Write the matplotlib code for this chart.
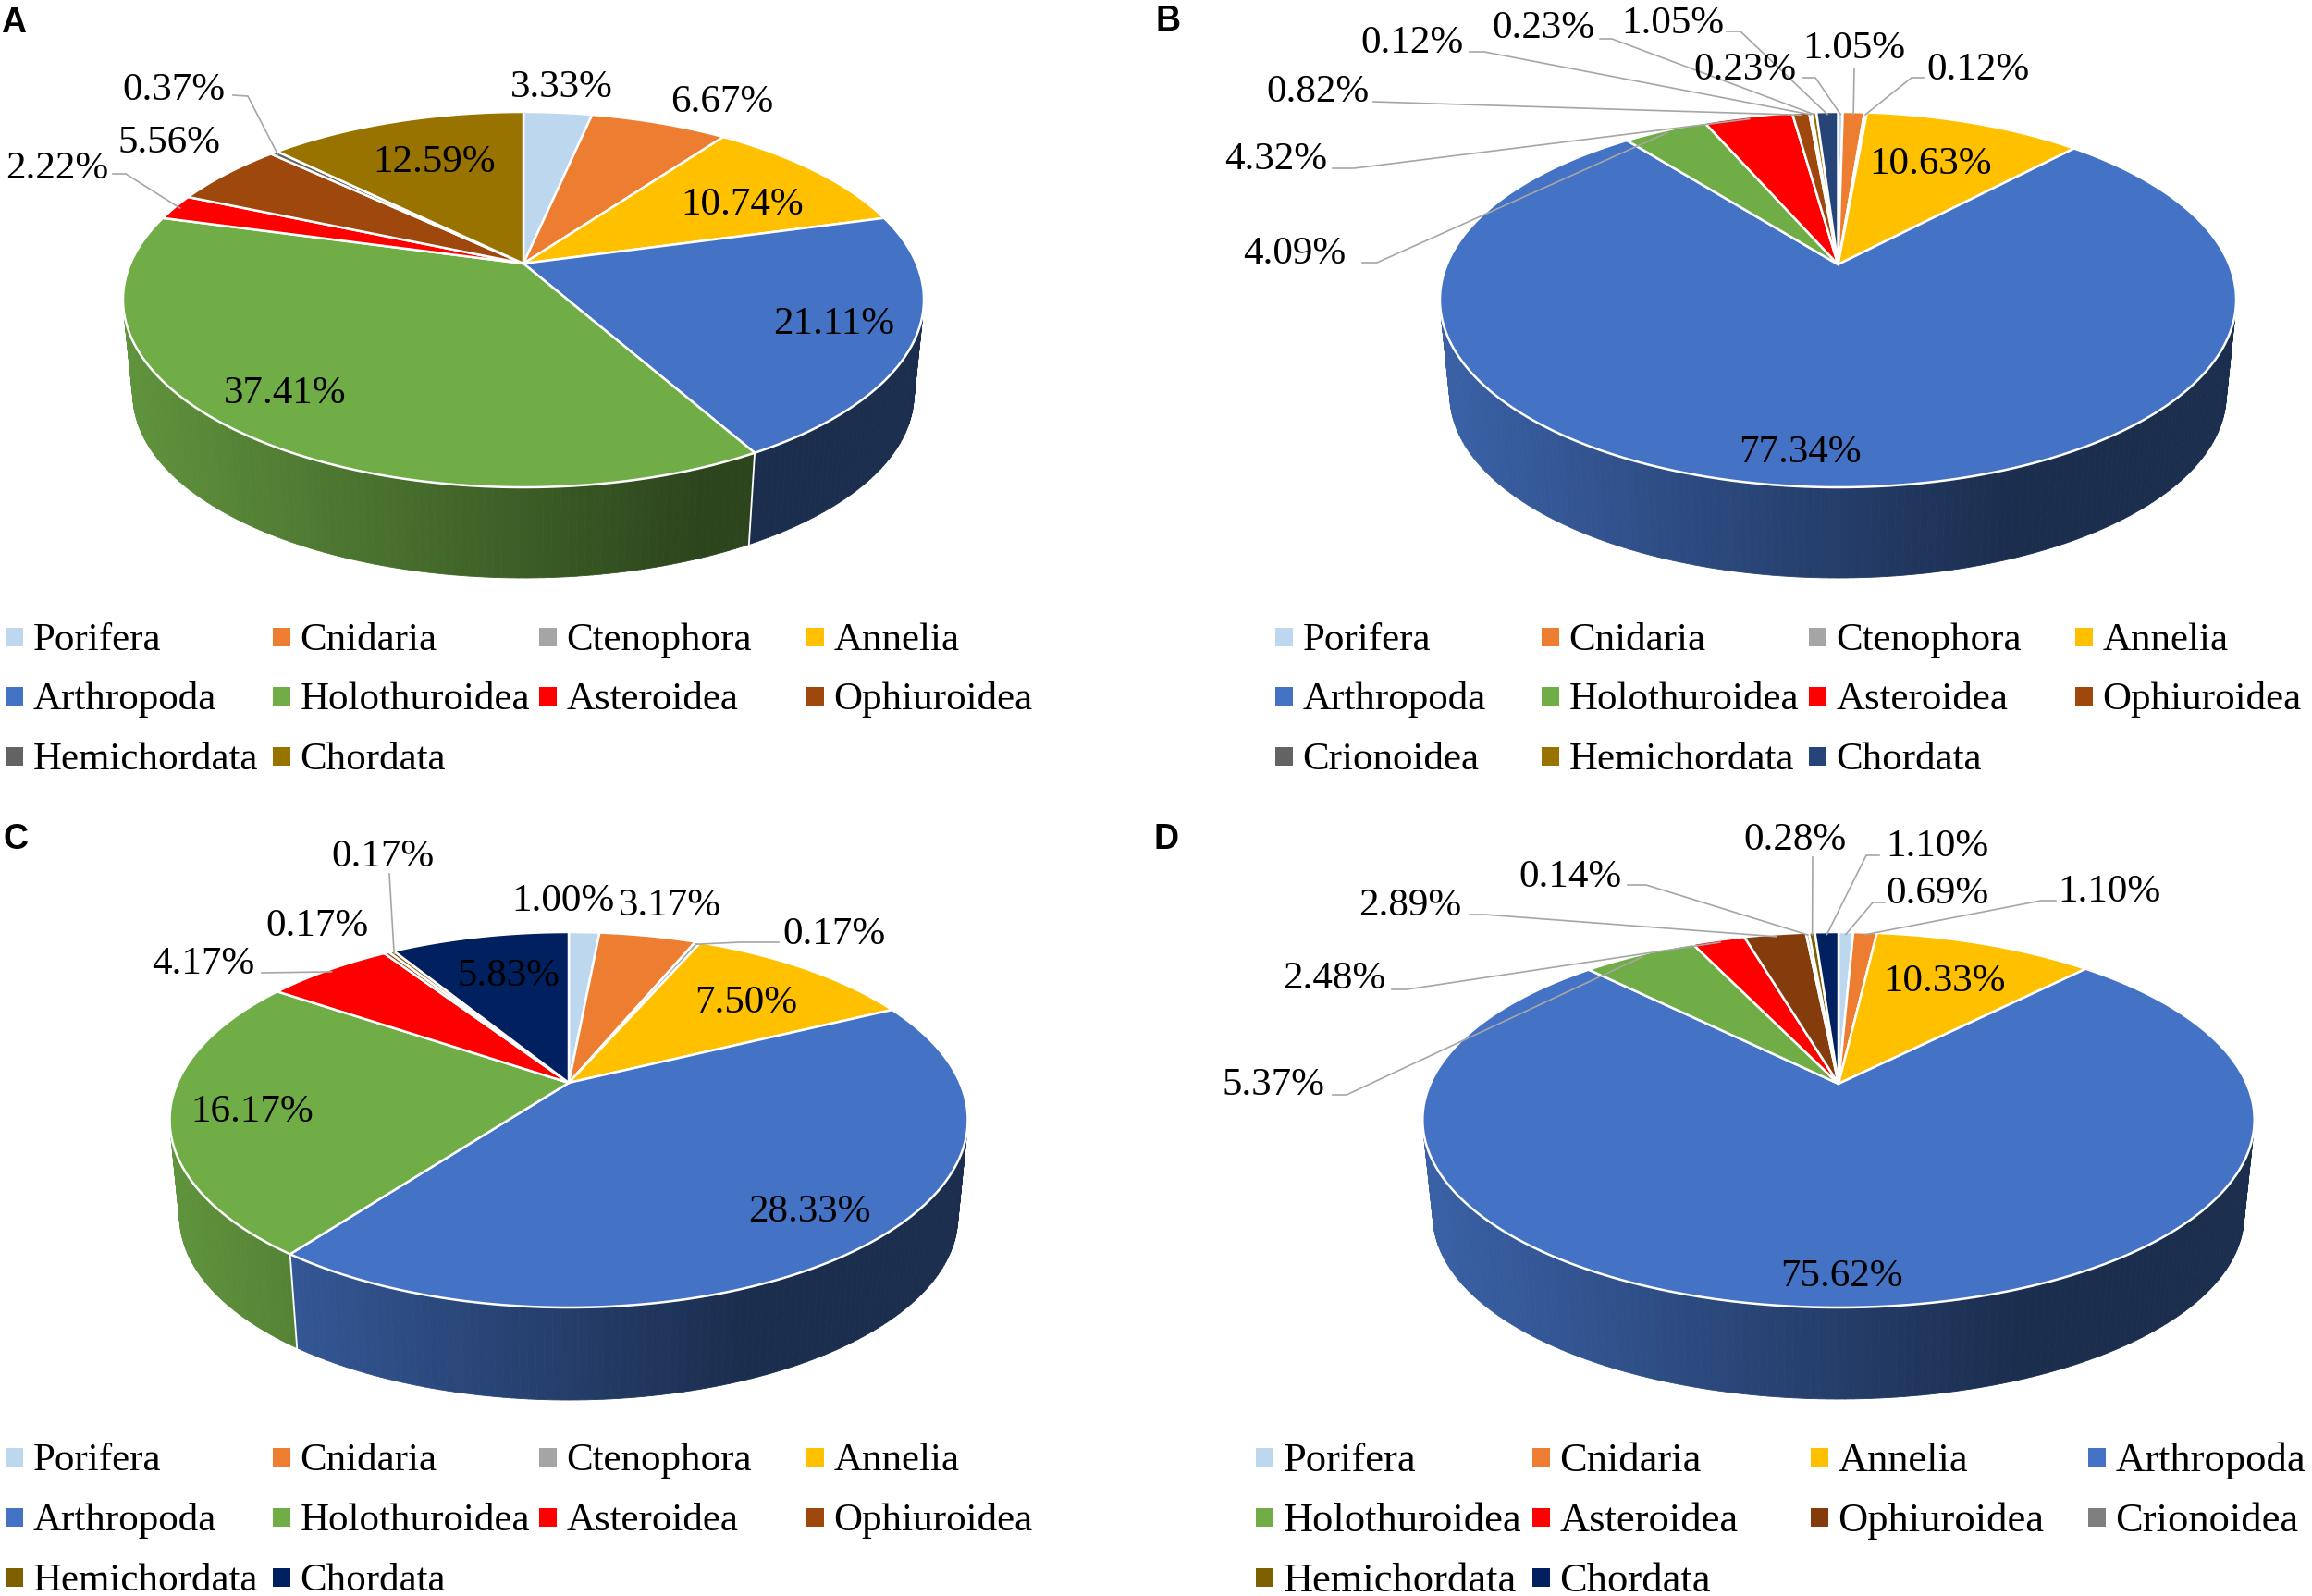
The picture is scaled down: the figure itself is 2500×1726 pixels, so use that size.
"""Four perspective pie charts of phylum shares (panels A-D)."""

import matplotlib

matplotlib.use("Agg")
import matplotlib.pyplot as plt
import numpy as np
from matplotlib.collections import PolyCollection
from matplotlib.patches import Rectangle

plt.rcParams["font.family"] = ["Liberation Serif", "DejaVu Serif"]

FONT_PT = 31
TEXT_SHIFT = 3.5
LEADER = "#a6a6a6"

# data, clockwise from twelve o'clock
A_NAMES = ["Porifera", "Cnidaria", "Annelia", "Arthropoda", "Holothuroidea",
           "Asteroidea", "Ophiuroidea", "Hemichordata", "Chordata"]
A_VALUES = [3.33, 6.67, 10.74, 21.11, 37.41, 2.22, 5.56, 0.37, 12.59]

B_NAMES = ["Porifera", "Cnidaria", "Ctenophora", "Annelia", "Arthropoda", "Holothuroidea",
           "Asteroidea", "Ophiuroidea", "Crionoidea", "Hemichordata", "Chordata"]
B_VALUES = [0.23, 1.05, 0.12, 10.63, 77.34, 4.09, 4.32, 0.82, 0.12, 0.23, 1.05]

C_NAMES = ["Porifera", "Cnidaria", "Ctenophora", "Annelia", "Arthropoda", "Holothuroidea",
           "Asteroidea", "Ophiuroidea", "Hemichordata", "Chordata"]
C_VALUES = [1.00, 3.17, 0.17, 7.50, 28.33, 16.17, 4.17, 0.17, 0.17, 5.83]

D_NAMES = ["Porifera", "Cnidaria", "Annelia", "Arthropoda", "Holothuroidea",
           "Asteroidea", "Ophiuroidea", "Crionoidea", "Hemichordata", "Chordata"]
D_VALUES = [0.69, 1.10, 10.33, 75.62, 5.37, 2.48, 2.89, 0.14, 0.28, 1.10]

# legend order, one list per panel
A_LEGEND = ["Porifera", "Cnidaria", "Ctenophora", "Annelia", "Arthropoda", "Holothuroidea",
            "Asteroidea", "Ophiuroidea", "Hemichordata", "Chordata"]
B_LEGEND = B_NAMES
C_LEGEND = C_NAMES
D_LEGEND = D_NAMES

BASE_COLORS = {
    "Porifera": "#bdd7ee", "Cnidaria": "#ed7d31", "Ctenophora": "#a5a5a5",
    "Annelia": "#ffc000", "Arthropoda": "#4472c4", "Holothuroidea": "#70ad47",
    "Asteroidea": "#ff0000", "Ophiuroidea": "#9e480e",
}
A_COLORS = {**BASE_COLORS, "Hemichordata": "#636363", "Chordata": "#997300"}
B_COLORS = {**BASE_COLORS, "Crionoidea": "#636363", "Hemichordata": "#997300", "Chordata": "#264478"}
C_COLORS = {**BASE_COLORS, "Hemichordata": "#7f6000", "Chordata": "#002060"}
D_COLORS = {**BASE_COLORS, "Ophiuroidea": "#843c0c", "Crionoidea": "#7f7f7f",
            "Hemichordata": "#7f6000", "Chordata": "#002060"}

# label centre per slice, then leader elbow points (empty = no leader)
A_LABELS = [
    ((607, 91), []), ((781, 107), []), ((803, 218), []), ((902, 347), []), ((308, 422), []),
    ((62, 179), [(122, 188), (136, 188)]), ((183, 151), []),
    ((188, 94), [(252, 103), (268, 104)]), ((470, 172), []),
]
B_LABELS = [
    ((1887, 72), [(1950, 84), (1963, 84)]), ((2005, 49), [(2005, 74)]),
    ((2139, 72), [(2080, 84), (2067, 84)]), ((2088, 174), []), ((1946, 486), []),
    ((1400, 271), [(1473, 284), (1489, 284)]), ((1380, 169), [(1441, 182), (1464, 182)]),
    ((1425, 96), [(1485, 110)]), ((1527, 43), [(1589, 56), (1605, 56)]),
    ((1669, 27), [(1730, 42), (1743, 42)]), ((1809, 22), [(1867, 34), (1882, 34)]),
]
C_LABELS = [
    ((609, 971), []), ((724, 976), []), ((902, 1007), [(842, 1019), (800, 1019)]),
    ((807, 1081), []), ((875, 1307), []), ((273, 1199), []),
    ((220, 1039), [(283, 1052)]), ((343, 998), []), ((414, 923), [(421, 945)]),
    ((550, 1052), []),
]
D_LABELS = [
    ((2095, 963), [(2038, 976), (2025, 976)]), ((2281, 961), [(2223, 974), (2207, 974)]),
    ((2102, 1058), []), ((1991, 1377), []), ((1377, 1170), [(1441, 1184), (1456, 1184)]),
    ((1443, 1055), [(1505, 1070), (1521, 1070)]), ((1525, 976), [(1589, 989), (1605, 989)]),
    ((1698, 945), [(1760, 957), (1780, 957)]), ((1941, 905), [(1960, 927)]),
    ((2095, 912), [(2032, 925), (2018, 925)]),
]

PANELS = [
    dict(letter="A", letter_xy=(15, 22), names=A_NAMES, values=A_VALUES, colors=A_COLORS,
         labels=A_LABELS, legend=A_LEGEND, cx=566, apex=285, rx=433, top=121, bot=527, wall=625,
         swatch_x=[6, 295, 583, 872], rows=[689, 753, 818], legend_pt=31),
    dict(letter="B", letter_xy=(1263, 20), names=B_NAMES, values=B_VALUES, colors=B_COLORS,
         labels=B_LABELS, legend=B_LEGEND, cx=1987.5, apex=286, rx=430.5, top=121, bot=527, wall=625,
         swatch_x=[1379, 1667, 1956, 2244], rows=[689, 753, 818], legend_pt=31),
    dict(letter="C", letter_xy=(17, 905), names=C_NAMES, values=C_VALUES, colors=C_COLORS,
         labels=C_LABELS, legend=C_LEGEND, cx=615, apex=1171, rx=431.5, top=1008, bot=1414, wall=1514,
         swatch_x=[6, 295, 583, 872], rows=[1576, 1641, 1706], legend_pt=31),
    dict(letter="D", letter_xy=(1261, 905), names=D_NAMES, values=D_VALUES, colors=D_COLORS,
         labels=D_LABELS, legend=D_LEGEND, cx=1988, apex=1172, rx=449.7, top=1008, bot=1414, wall=1513,
         swatch_x=[1358, 1657, 1958, 2258], rows=[1576, 1641, 1706], legend_pt=32),
]


def make_projection(p):
    """Return functions mapping a clockwise angle to the top rim and the lower rim."""
    up = p["apex"] - p["top"]
    down = p["bot"] - p["apex"]
    k = (down - up) / (down + up)
    height = up * (1 + k)
    width = p["rx"] * np.sqrt(1 - k**2)
    shrink = 0.975
    low_apex = p["wall"] - shrink * down

    def top_rim(theta, r=1.0):
        w = 1 + k * np.cos(theta)
        return p["cx"] + r * width * np.sin(theta) / w, p["apex"] - r * height * np.cos(theta) / w

    def low_rim(theta):
        w = 1 + k * np.cos(theta)
        return p["cx"] + shrink * width * np.sin(theta) / w, low_apex - shrink * height * np.cos(theta) / w

    return top_rim, low_rim


def draw_wall(ax, p, edges, top_rim, low_rim):
    """Shaded side wall: each strip gets darker from left to right."""
    left = p["cx"] - p["rx"]
    span = 2 * p["rx"] * 0.72
    polys, faces = [], []
    for i, name in enumerate(p["names"]):
        base = np.array(matplotlib.colors.to_rgb(p["colors"][name]))
        n = max(2, int(np.degrees(edges[i + 1] - edges[i])) + 2)
        angles = np.linspace(edges[i], edges[i + 1], n)
        for t0, t1 in zip(angles[:-1], angles[1:]):
            xa, ya = top_rim(t0)
            xb, yb = top_rim(t1)
            xc, yc = low_rim(t1)
            xd, yd = low_rim(t0)
            frac = min(1.0, ((xa + xb) / 2 - left) / span)
            polys.append([(xa, ya), (xb, yb), (xc, yc), (xd, yd)])
            faces.append(base * (0.85 - 0.45 * frac))
    ax.add_collection(PolyCollection(polys, facecolors=faces, edgecolors=faces, linewidths=0.6, zorder=1))
    for t in edges[:-1]:
        if np.cos(t) < 0:
            xa, ya = top_rim(t)
            xb, yb = low_rim(t)
            ax.plot([xa, xb], [ya, yb], color="white", lw=1.3, zorder=1.5)


def draw_panel(ax, p):
    values = np.array(p["values"], dtype=float)
    edges = np.concatenate([[0], np.cumsum(values)]) / values.sum() * 2 * np.pi
    top_rim, low_rim = make_projection(p)

    draw_wall(ax, p, edges, top_rim, low_rim)

    for i, name in enumerate(p["names"]):
        n = max(2, int(np.degrees(edges[i + 1] - edges[i]) * 2) + 2)
        xs, ys = top_rim(np.linspace(edges[i], edges[i + 1], n))
        ax.fill(np.r_[p["cx"], xs], np.r_[p["apex"], ys], facecolor=p["colors"][name],
                edgecolor="white", lw=1.8, joinstyle="round", zorder=2)

    for i, (value, (xy, elbows)) in enumerate(zip(p["values"], p["labels"])):
        if elbows:
            end = top_rim((edges[i] + edges[i + 1]) / 2, 0.985)
            xs = [e[0] for e in elbows] + [end[0]]
            ys = [e[1] for e in elbows] + [end[1]]
            ax.plot(xs, ys, color=LEADER, lw=1.2, zorder=3, solid_joinstyle="round")
        ax.text(xy[0], xy[1] + TEXT_SHIFT, f"{value:.2f}%", fontsize=FONT_PT, color="black",
                ha="center", va="center", zorder=4)

    for j, name in enumerate(p["legend"]):
        row, col = divmod(j, 4)
        x, y = p["swatch_x"][col], p["rows"][row]
        ax.add_patch(Rectangle((x, y - 10), 19, 20, facecolor=p["colors"].get(name, "#a5a5a5"),
                               edgecolor="none", zorder=2))
        ax.text(x + 29.5, y + TEXT_SHIFT, name, fontsize=p["legend_pt"], color="black",
                ha="left", va="center", zorder=4)

    ax.text(p["letter_xy"][0], p["letter_xy"][1] + 3, p["letter"], fontsize=27, fontweight="bold",
            family="Liberation Sans", color="black", ha="center", va="center", zorder=4)


def main() -> None:
    fig = plt.figure(figsize=(25, 17.26), dpi=100, facecolor="white")
    ax = fig.add_axes([0, 0, 1, 1])
    ax.set_xlim(0, 2500)
    ax.set_ylim(1726, 0)
    ax.axis("off")
    for panel in PANELS:
        draw_panel(ax, panel)
    fig.savefig("out.png", dpi=100, facecolor="white")
    plt.close(fig)


if __name__ == "__main__":
    main()
